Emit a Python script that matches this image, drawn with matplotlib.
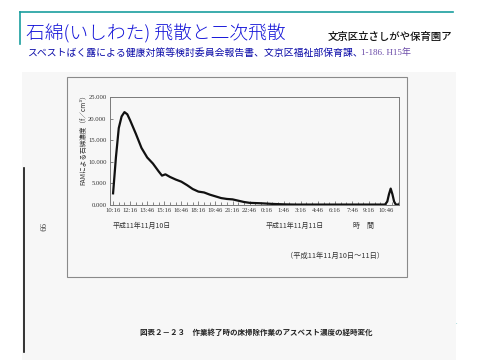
import matplotlib
matplotlib.use('Agg')
import matplotlib.pyplot as plt
from matplotlib.patches import Rectangle
from matplotlib.lines import Line2D

plt.rcParams['font.family'] = ['Noto Sans CJK JP', 'DejaVu Sans']

# Data: hours after 10:16, asbestos concentration
hours = [0.0, 0.25, 0.5, 0.75, 1.0, 1.25, 1.5, 2.0, 2.5, 3.0, 3.5, 4.0, 4.3, 4.6,
         5.0, 5.5, 6.0, 6.5, 7.0, 7.5, 8.0, 8.5, 9.0, 9.5, 10.0, 10.5, 11.0,
         11.5, 12.0, 13.0, 14.0, 15.0, 16.0, 20.0, 23.9, 24.1, 24.25, 24.4,
         24.55, 24.7, 24.85, 25.2]
conc = [2.7, 11.0, 17.8, 20.5, 21.5, 21.0, 19.6, 16.5, 13.2, 11.0, 9.6, 7.8, 6.8, 7.1,
        6.5, 5.9, 5.4, 4.6, 3.7, 3.1, 2.9, 2.4, 2.0, 1.6, 1.4, 1.3, 1.0,
        0.7, 0.5, 0.4, 0.25, 0.15, 0.1, 0.1, 0.1, 0.8, 2.5, 3.8,
        2.5, 0.8, 0.1, 0.1]
tick_labels = ['10:16', '12:16', '13:46', '15:16', '16:46', '18:16', '19:46', '21:16',
               '22:46', '0:16', '1:46', '3:16', '4:46', '6:16', '7:46', '9:16', '10:46']
y_ticks = [0, 5, 10, 15, 20, 25]

W, H = 480, 360


def fx(x):
    return x / W


def fy(y):
    return 1 - y / H


fig = plt.figure(figsize=(4.8, 3.6), dpi=100)
fig.patch.set_facecolor('white')

# scanned page background
fig.patches.append(Rectangle((fx(22), fy(360)), fx(456) - fx(22), fy(72) - fy(360),
                             transform=fig.transFigure, facecolor='#f7f7f7', edgecolor='none', zorder=-2))
fig.lines.append(Line2D([fx(24), fx(24)], [fy(168), fy(352)], transform=fig.transFigure,
                        color='#111111', lw=1.2))
# outer chart box
fig.patches.append(Rectangle((fx(67), fy(277)), fx(407) - fx(67), fy(77) - fy(277),
                             transform=fig.transFigure, facecolor='none', edgecolor='#8a8a8a', lw=0.8,
                             zorder=-1))

# slide header lines
teal = '#1a9e9e'
fig.lines.append(Line2D([fx(20), fx(453)], [fy(12), fy(12)], transform=fig.transFigure, color=teal, lw=1.2))
fig.lines.append(Line2D([fx(20), fx(20)], [fy(12), fy(44)], transform=fig.transFigure, color=teal, lw=1.2))

fig.text(fx(26), fy(34), '石綿(いしわた) 飛散と二次飛散', fontsize=13.5, color='#1414d8',
         fontweight='light', va='center', ha='left')
fig.text(fx(328), fy(37), '文京区立さしがや保育園ア', fontsize=7.5, color='#111111',
         va='center', ha='left', fontweight='medium')
fig.text(fx(27), fy(53), 'スベストばく露による健康対策等検討委員会報告書、文京区福祉部保育課、',
         fontsize=7.1, color='#0a0aa8', va='center', ha='left')
fig.text(fx(361), fy(53), '1-186. H15年', fontsize=6.5, color='#6a4aa8',
         va='center', ha='left', family=['Liberation Serif', 'Noto Sans CJK JP'])

# plot area
ax = fig.add_axes([fx(110), fy(205), fx(399) - fx(110), fy(97) - fy(205)])
ax.set_facecolor('#f7f7f7')
ax.plot(hours, conc, color='#111111', lw=1.6, solid_joinstyle='round')
ax.set_xlim(-0.27, 25.13)
ax.set_ylim(0, 25)
ax.set_xticks([1.5 * i for i in range(len(tick_labels))])
ax.set_xticklabels(tick_labels)
ax.set_xticks([0.5 * i for i in range(51)], minor=True)
ax.set_yticks(y_ticks)
ax.set_yticklabels(['%d.000' % v for v in y_ticks])
for s in ax.spines.values():
    s.set_color('#7a7a7a')
    s.set_linewidth(0.7)
ax.tick_params(axis='both', which='both', direction='in', colors='#555555', width=0.5,
               labelcolor='#333333', labelsize=4.8, pad=2.5)
ax.tick_params(axis='x', which='major', length=3)
ax.tick_params(axis='x', which='minor', length=2)
ax.tick_params(axis='y', length=2.5)
for lab in ax.get_xticklabels() + ax.get_yticklabels():
    lab.set_family(['Liberation Serif', 'DejaVu Serif'])

fig.text(fx(83), fy(138), 'FAMによる石綿濃度（f／cm³）', rotation=90, fontsize=4.8,
         color='#333333', va='center', ha='center')
fig.text(fx(113), fy(226), '平成11年11月10日', fontsize=5, color='#333333', va='center', ha='left')
fig.text(fx(266), fy(226), '平成11年11月11日', fontsize=5, color='#333333', va='center', ha='left')
fig.text(fx(353), fy(226), '時　間', fontsize=5, color='#333333', va='center', ha='left')
fig.text(fx(286), fy(256), '（平成11年11月10日～11日）', fontsize=5.2, color='#333333',
         va='center', ha='left')

# page number (rotated scan) and caption
fig.text(fx(41), fy(227), '99', rotation=-90, fontsize=6.5, color='#444444', va='center', ha='center',
         family=['Liberation Serif', 'DejaVu Serif'])
fig.text(fx(140), fy(332), '図表２－２３　作業終了時の床掃除作業のアスベスト濃度の経時変化',
         fontsize=5.4, color='#222222', fontweight='bold', va='center', ha='left')
fig.text(fx(456), fy(322), '.', fontsize=4, color=teal, va='center', ha='center')

fig.savefig('out.png', dpi=100)
